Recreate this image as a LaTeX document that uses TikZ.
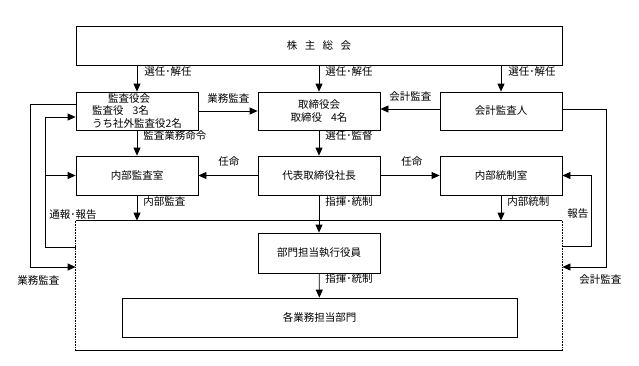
\documentclass[tikz,border=0pt]{standalone}
\usepackage{fontspec}
\setmainfont{Noto Sans CJK JP}
\usetikzlibrary{arrows.meta, positioning, calc}

\begin{document}
\begin{tikzpicture}[
    x=1pt, y=-1pt, >={Triangle[length=8pt, width=7pt]},
    line width=0.8pt,
    orgbox/.style={draw, minimum width=122pt, minimum height=38pt,
        inner sep=0pt, font=\fontsize{10.5}{12.5}\selectfont},
    lbl/.style={anchor=west, inner sep=0pt, font=\fontsize{10.5}{12.5}\selectfont}
  ]
  \useasboundingbox (0,0) rectangle (639,365);
  % boxes
  \node[orgbox, minimum width=486pt, minimum height=39pt] (soukai) at (319,45.5)
    {株\hspace{7.5pt}主\hspace{7.5pt}総\hspace{7.5pt}会};
  \node[orgbox, align=left] (kansayaku) at (137,111)
    {\hspace*{16pt}監査役会\\監査役\hspace{9pt}3名\\うち社外監査役2名};
  \node[orgbox, align=center] (torishimari) at (319,111)
    {取締役会\\取締役\hspace{9pt}4名};
  \node[orgbox] (kaikei) at (501,111) {会計監査人};
  \node[orgbox, minimum height=39pt] (naibukansa) at (137,175.5) {内部監査室};
  \node[orgbox, minimum height=39pt] (shacho) at (319,175.5) {代表取締役社長};
  \node[orgbox, minimum height=39pt] (naibutousei) at (501,175.5) {内部統制室};
  \node[minimum width=486pt, minimum height=129pt, inner sep=0pt] (bumon) at (319,285.5) {};
  \node[orgbox, minimum height=40pt] (yakuin) at (319,253) {部門担当執行役員};
  \node[orgbox, minimum width=395pt, minimum height=39pt] (kakubu) at (319.5,317.5) {各業務担当部門};

  % departments frame
  \draw (bumon.north west) -- (bumon.north east);
  \draw (bumon.south west) -- (bumon.south east);
  \draw[densely dotted, line width=0.6pt] (bumon.north west) -- (bumon.south west);
  \draw[densely dotted, line width=0.6pt] (bumon.north east) -- (bumon.south east);

  % arrows down
  \draw[->] (kansayaku.north |- soukai.south) -- (kansayaku.north);
  \draw[->] (torishimari.north |- soukai.south) -- (torishimari.north);
  \draw[->] (kaikei.north |- soukai.south) -- (kaikei.north);
  \draw[->] (kansayaku) -- (naibukansa);
  \draw[->] (torishimari) -- (shacho);
  \draw[->] (naibukansa.south) -- (naibukansa.south |- bumon.north);
  \draw[->] (shacho) -- (yakuin);
  \draw[->] (naibutousei.south) -- (naibutousei.south |- bumon.north);
  \draw[->] (yakuin) -- (kakubu);

  % arrows across
  \draw[->] (kansayaku) -- (torishimari);
  \draw[->] ([yshift=2pt]kaikei.west) -- ([yshift=2pt]torishimari.east);
  \draw[->] (shacho) -- (naibukansa);
  \draw[->] (shacho) -- (naibutousei);

  % reporting loops
  \coordinate (fbL) at (45,247);
  \coordinate (fbLL) at (30,267);
  \coordinate (fbR) at (591,246);
  \coordinate (fbRR) at (606,267);
  \draw[->] (fbL -| bumon.west) -- (fbL) |- ([yshift=-6pt]kansayaku.west);
  \draw[->] (fbL |- naibukansa) -- (naibukansa.west);
  \draw[->] ([yshift=7pt]kansayaku.west) -| (fbLL) -- (fbLL -| bumon.west);
  \draw[->] (fbR -| bumon.east) -- (fbR) |- (naibutousei.east);
  \draw[->] ([yshift=2pt]kaikei.east) -| (fbRR) -- (fbRR -| bumon.east);

  % labels
  \node[lbl] (lsennin1) at (144,72) {選任･解任};
  \node[lbl] (lsennin2) at (325,72) {選任･解任};
  \node[lbl] (lsennin3) at (508,72) {選任･解任};
  \node[lbl] (lgyoumu1) at (207,98) {業務監査};
  \node[lbl] (lkaikei1) at (389,97) {会計監査};
  \node[lbl] (lmeirei) at (143,136) {監査業務命令};
  \node[lbl] (lkantoku) at (325,136) {選任･監督};
  \node[lbl] (lninmei1) at (218,162) {任命};
  \node[lbl] (lninmei2) at (401,162) {任命};
  \node[lbl] (lnaibukansa) at (143,202) {内部監査};
  \node[lbl] (lshiki1) at (325,202) {指揮･統制};
  \node[lbl] (lnaibutousei) at (507,202) {内部統制};
  \node[lbl] (ltsuuhou) at (49,215) {通報･報告};
  \node[lbl] (lgyoumu2) at (17,280) {業務監査};
  \node[lbl] (lshiki2) at (325,279) {指揮･統制};
  \node[lbl] (lhoukoku) at (567,214) {報告};
  \node[lbl] (lkaikei2) at (579,280) {会計監査};
\end{tikzpicture}
\end{document}
